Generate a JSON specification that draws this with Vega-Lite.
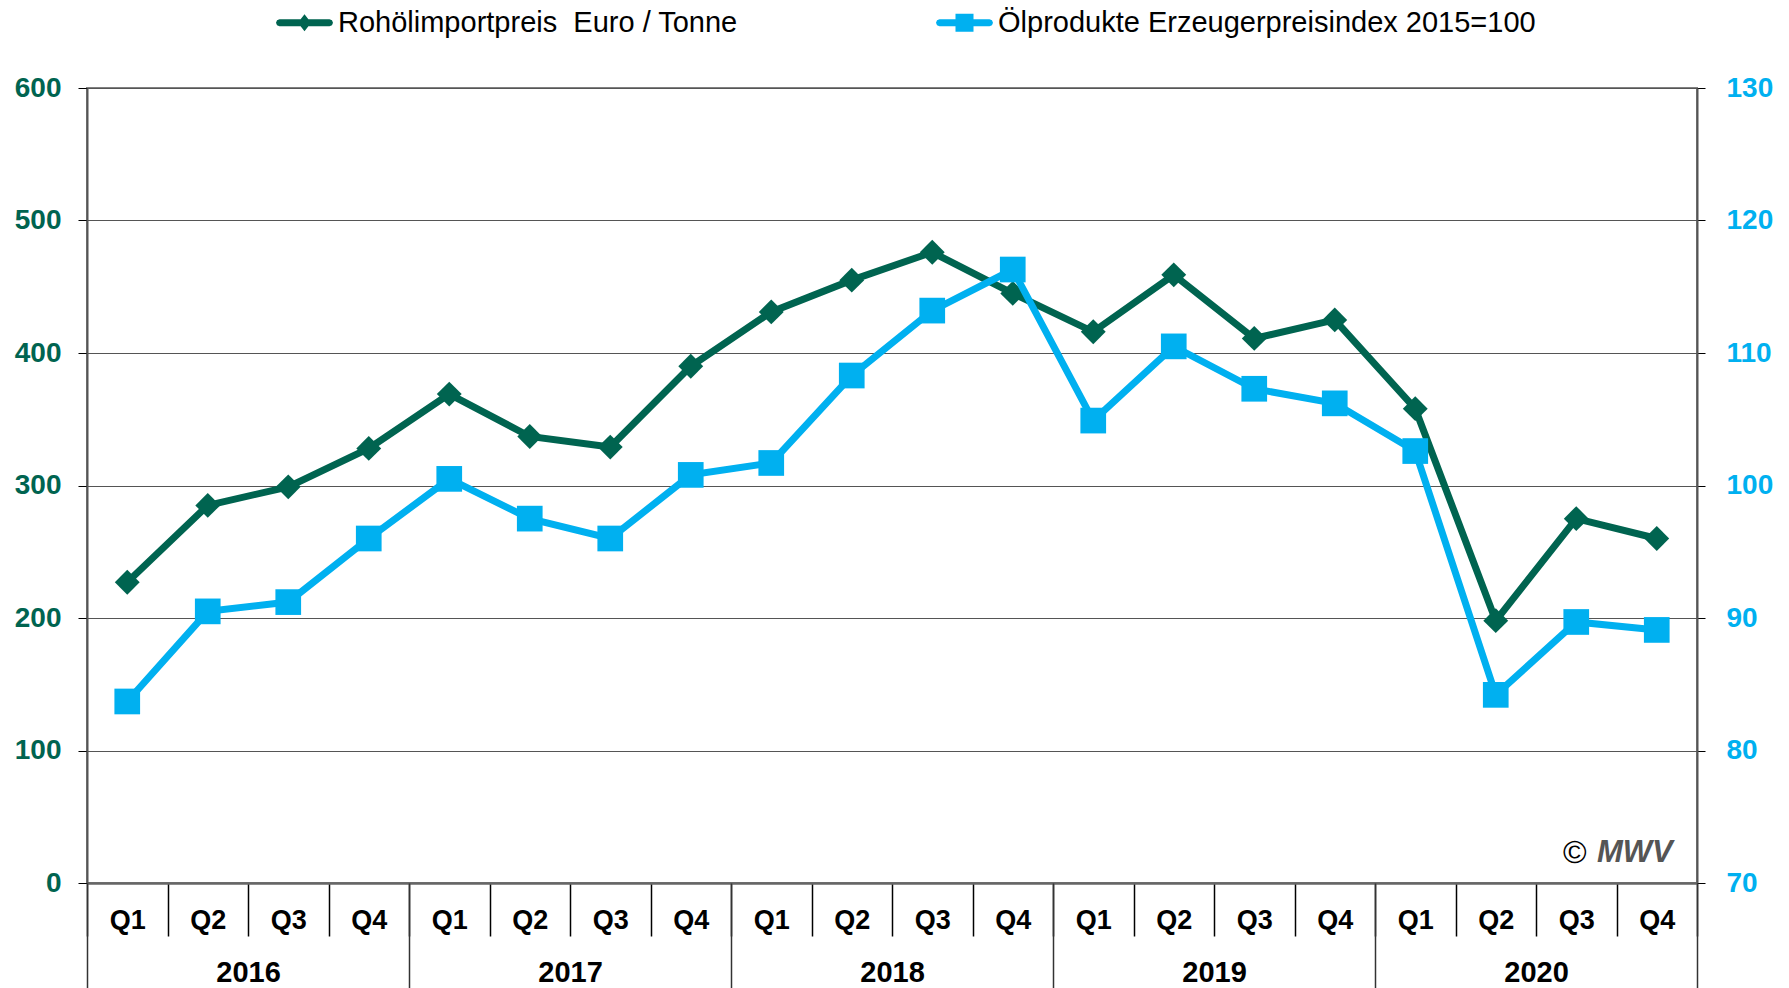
{
  "$schema": "https://vega.github.io/schema/vega-lite/v6.json",
  "width": 1610,
  "height": 795,
  "autosize": {"type": "none"},
  "padding": {"left": 87, "top": 88, "right": 92, "bottom": 105},
  "background": "white",
  "config": {
    "view": {"stroke": "#808080", "strokeWidth": 2},
    "font": "Liberation Sans"
  },
  "datasets": {
    "main": [
      {"p": "2016-Q1", "crude": 227, "index": 83.7},
      {"p": "2016-Q2", "crude": 285, "index": 90.5},
      {"p": "2016-Q3", "crude": 299, "index": 91.2},
      {"p": "2016-Q4", "crude": 328, "index": 96.0},
      {"p": "2017-Q1", "crude": 369, "index": 100.5},
      {"p": "2017-Q2", "crude": 337, "index": 97.5},
      {"p": "2017-Q3", "crude": 329, "index": 96.0},
      {"p": "2017-Q4", "crude": 390, "index": 100.8},
      {"p": "2018-Q1", "crude": 431, "index": 101.7},
      {"p": "2018-Q2", "crude": 455, "index": 108.3},
      {"p": "2018-Q3", "crude": 476, "index": 113.2},
      {"p": "2018-Q4", "crude": 445, "index": 116.3},
      {"p": "2019-Q1", "crude": 416, "index": 104.9},
      {"p": "2019-Q2", "crude": 459, "index": 110.5},
      {"p": "2019-Q3", "crude": 411, "index": 107.3},
      {"p": "2019-Q4", "crude": 425, "index": 106.2},
      {"p": "2020-Q1", "crude": 358, "index": 102.6},
      {"p": "2020-Q2", "crude": 198, "index": 84.2},
      {"p": "2020-Q3", "crude": 275, "index": 89.7},
      {"p": "2020-Q4", "crude": 260, "index": 89.1}
    ],
    "years": [
      {"year": "2016"}, {"year": "2017"}, {"year": "2018"}, {"year": "2019"}, {"year": "2020"}
    ]
  },
  "layer": [
    {
      "data": {"name": "main"},
      "layer": [
        {
          "layer": [
            {
              "mark": {"type": "line", "strokeWidth": 7, "point": {"shape": "diamond", "size": 620, "filled": true, "opacity": 1}},
              "encoding": {
                "x": {
                  "field": "p", "type": "nominal", "bandPosition": 0.5,
                  "scale": {"type": "band", "paddingInner": 0, "paddingOuter": 0},
                  "axis": {
                    "title": null, "orient": "bottom", "labelExpr": "slice(datum.label, 5)",
                    "tickBand": "extent", "tickSize": 53, "tickColor": "#000", "tickWidth": 1.5,
                    "labelFont": "Liberation Sans", "labelFontWeight": "bold", "labelFontSize": 27,
                    "labelColor": "#000", "labelPadding": -29, "labelAngle": 0, "labelBaseline": "top",
                    "domainColor": "#666", "domainWidth": 2.5, "grid": false
                  }
                },
                "y": {
                  "field": "crude", "type": "quantitative",
                  "scale": {"domain": [0, 600], "nice": false, "zero": false},
                  "axis": {
                    "title": null, "orient": "left", "values": [0, 100, 200, 300, 400, 500, 600],
                    "tickSize": 9, "tickColor": "#000", "labelPadding": 17,
                    "labelFont": "Liberation Sans", "labelFontSize": 28, "labelFontWeight": "bold", "labelColor": "#006450",
                    "grid": true, "gridColor": "#555", "gridWidth": 1.2,
                    "domainColor": "#555", "domainWidth": 2
                  }
                },
                "color": {
                  "datum": "Rohölimportpreis\u00a0 Euro / Tonne", "type": "nominal",
                  "scale": {"domain": ["Rohölimportpreis\u00a0 Euro / Tonne", "Ölprodukte Erzeugerpreisindex 2015=100"], "range": ["#006450", "#00B0F0"]},
                  "legend": {
                    "orient": "none", "legendX": 189, "legendY": -94, "direction": "horizontal", "title": null,
                    "symbolSize": 3249, "labelFontSize": 29, "labelFont": "Liberation Sans", "labelColor": "#000",
                    "labelOffset": 5, "labelLimit": 900, "columnPadding": 198, "padding": 0,
                    "symbolStrokeWidth": 0, "symbolOpacity": 1,
                    "encode": {
                      "symbols": {
                        "update": {
                          "shape": {"signal": "datum.value === 'Ölprodukte Erzeugerpreisindex 2015=100' ? 'M-0.877,-0.123 L-0.316,-0.123 L-0.316,-0.316 L0.316,-0.316 L0.316,-0.123 L0.877,-0.123 L0.964,-0.087 L1,0 L0.964,0.087 L0.877,0.123 L0.316,0.123 L0.316,0.316 L-0.316,0.316 L-0.316,0.123 L-0.877,0.123 L-0.964,0.087 L-1,0 L-0.964,-0.087 Z' : 'M-0.877,-0.123 L-0.136,-0.123 L0,-0.3 L0.136,-0.123 L0.877,-0.123 L0.964,-0.087 L1,0 L0.964,0.087 L0.877,0.123 L0.136,0.123 L0,0.3 L-0.136,0.123 L-0.877,0.123 L-0.964,0.087 L-1,0 L-0.964,-0.087 Z'"},
                          "fill": {"signal": "datum.value === 'Ölprodukte Erzeugerpreisindex 2015=100' ? '#00B0F0' : '#006450'"},
                          "strokeWidth": {"value": 0},
                          "opacity": {"value": 1}
                        }
                      }
                    }
                  }
                }
              }
            },
            {
              "data": {"values": [{"t": "©", "p": "2020-Q3", "v": 22.6}]},
              "mark": {"type": "text", "align": "left", "baseline": "middle", "fontSize": 32, "color": "#000", "font": "Liberation Sans"},
              "encoding": {
                "x": {"field": "p", "type": "nominal", "bandPosition": 0.335},
                "y": {"field": "v", "type": "quantitative"},
                "text": {"field": "t"}
              }
            },
            {
              "data": {"values": [{"t": "MWV", "p": "2020-Q3", "v": 22.6}]},
              "mark": {"type": "text", "align": "left", "baseline": "middle", "fontSize": 31, "fontWeight": "bold", "fontStyle": "italic", "color": "#555", "font": "Liberation Sans"},
              "encoding": {
                "x": {"field": "p", "type": "nominal", "bandPosition": 0.758},
                "y": {"field": "v", "type": "quantitative"},
                "text": {"field": "t"}
              }
            }
          ]
        },
        {
          "mark": {"type": "line", "strokeWidth": 7, "point": {"shape": "square", "size": 660, "filled": true, "opacity": 1}},
          "encoding": {
            "x": {"field": "p", "type": "nominal", "bandPosition": 0.5},
            "y": {
              "field": "index", "type": "quantitative",
              "scale": {"domain": [70, 130], "nice": false, "zero": false},
              "axis": {
                "title": null, "orient": "right", "values": [70, 80, 90, 100, 110, 120, 130],
                "tickSize": 8, "tickColor": "#000", "labelPadding": 21,
                "labelFont": "Liberation Sans", "labelFontSize": 28, "labelFontWeight": "bold", "labelColor": "#00B0F0",
                "grid": false, "domainColor": "#555", "domainWidth": 2
              }
            },
            "color": {"datum": "Ölprodukte Erzeugerpreisindex 2015=100", "type": "nominal"}
          }
        }
      ],
      "resolve": {"scale": {"y": "independent"}}
    },
    {
      "data": {"name": "years"},
      "mark": {"type": "point", "opacity": 0},
      "encoding": {
        "x": {
          "field": "year", "type": "ordinal",
          "scale": {"type": "band", "paddingInner": 0, "paddingOuter": 0},
          "axis": {
            "title": null, "orient": "bottom", "tickBand": "extent", "tickSize": 110,
            "tickColor": "#333", "tickWidth": 1.5,
            "labelFont": "Liberation Sans", "labelFontSize": 29, "labelFontWeight": "bold", "labelColor": "#000",
            "labelPadding": -35, "labelAngle": 0, "labelBaseline": "top", "domain": false, "grid": false
          }
        }
      }
    }
  ],
  "resolve": {"scale": {"x": "independent"}}
}
